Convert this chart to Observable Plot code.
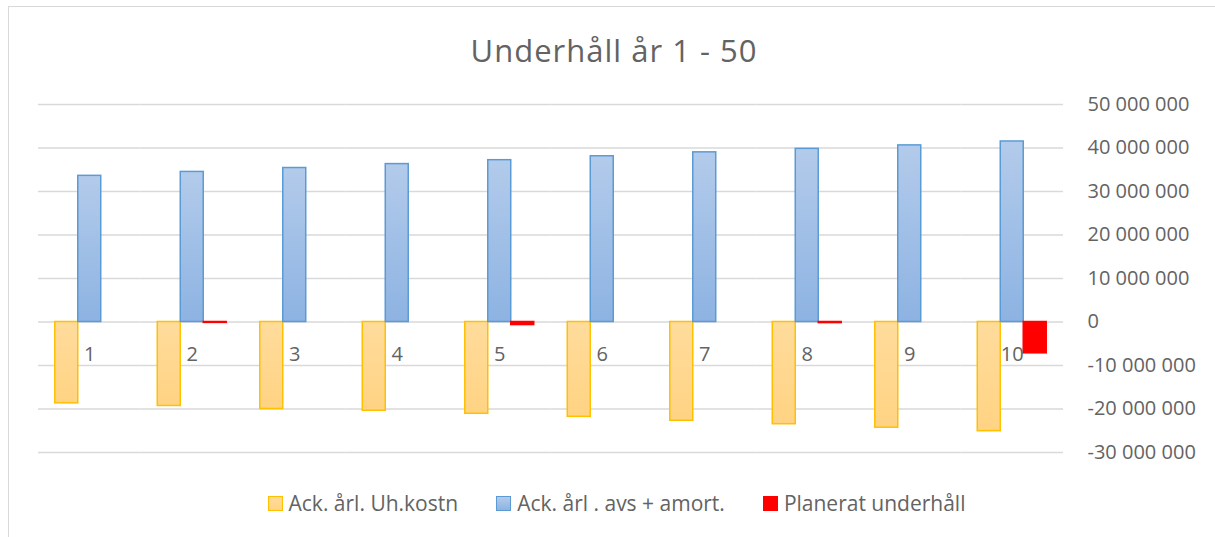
<!DOCTYPE html>
<html>
<head>
<meta charset="utf-8">
<script src="https://cdn.jsdelivr.net/npm/d3@7"></script>
<script src="https://cdn.jsdelivr.net/npm/@observablehq/plot@0.6"></script>
<style>
  html, body { margin: 0; padding: 0; background: #fff; }
  #chart { position: relative; width: 1215px; height: 537px; overflow: hidden; font-family: "Open Sans", sans-serif; color: #636363; }
  #frame { position: absolute; left: 8px; top: 6px; width: 1230px; height: 560px; border: 1px solid #d9d9d9; box-sizing: border-box; }
  #title { position: absolute; left: 0; top: 35px; width: 1215px; padding-left: 13px; box-sizing: border-box; text-align: center; font-size: 31px; line-height: 31px; letter-spacing: 1px; color: #636363; }
  #plot { position: absolute; left: 0; top: 84px; }
  #legend { position: absolute; left: 0; top: 493px; width: 1215px; padding-left: 18px; box-sizing: border-box; display: flex; justify-content: center; gap: 38px; font-size: 21px; line-height: 21px; color: #636363; }
  .item { display: flex; align-items: center; gap: 6px; }
  .sw { width: 13px; height: 13px; box-sizing: content-box; }
</style>
</head>
<body>
<div id="chart">
  <div id="frame"></div>
  <div id="title">Underhåll år 1 - 50</div>
  <div id="plot"></div>
  <div id="legend"></div>
</div>
<script>
// ---- data (values in kr) ----
const years = [1, 2, 3, 4, 5, 6, 7, 8, 9, 10];
const seriesNames = ["Ack. årl. Uh.kostn", "Ack. årl . avs + amort.", "Planerat underhåll"];
const uhKostn = [-18.7e6, -19.3e6, -20.0e6, -20.4e6, -21.1e6, -21.8e6, -22.7e6, -23.5e6, -24.3e6, -25.1e6];
const avsAmort = [33.6e6, 34.5e6, 35.4e6, 36.3e6, 37.2e6, 38.1e6, 39.0e6, 39.8e6, 40.6e6, 41.5e6];
const planerat = [0, -0.2e6, 0, 0, -0.7e6, 0, 0, -0.25e6, 0, -7.2e6];
const yTicks = [-30e6, -20e6, -10e6, 0, 10e6, 20e6, 30e6, 40e6, 50e6];

const table = years.flatMap((year, i) => [
  {year, series: seriesNames[0], value: uhKostn[i]},
  {year, series: seriesNames[1], value: avsAmort[i]},
  {year, series: seriesNames[2], value: planerat[i]}
]);

const fmt = d => d3.format(",")(d).replace(/,/g, " ").replace("\u2212", "-");

const styles = {
  [seriesNames[0]]: {fill: "url(#gradOrange)", stroke: "#FFC000"},
  [seriesNames[1]]: {fill: "url(#gradBlue)", stroke: "#5B9BD5"},
  [seriesNames[2]]: {fill: "#FF0000", stroke: "#FF0000"}
};

const chart = Plot.plot({
  width: 1215,
  height: 378,
  marginTop: 20,
  marginBottom: 10,
  marginLeft: 38,
  marginRight: 152,
  style: {fontFamily: "Open Sans, sans-serif", fontSize: "20px", color: "#636363", background: "transparent", overflow: "visible"},
  fx: {domain: years, padding: 0, round: false, axis: null, label: null},
  x: {domain: seriesNames, paddingInner: 0, paddingOuter: 0.73, round: false, axis: null},
  y: {domain: [-30e6, 50e6], ticks: yTicks, axis: "right", tickSize: 0, tickPadding: 24, tickFormat: fmt, label: null},
  marks: [
    Plot.ruleY(yTicks, {stroke: "#d9d9d9", strokeWidth: 1.3}),
    ...seriesNames.map(s => Plot.barY(table.filter(d => d.series === s && d.value !== 0), {
      fx: "year", x: "series", y: "value",
      fill: styles[s].fill, stroke: styles[s].stroke, strokeWidth: 1.5
    })),
    Plot.text(years, {fx: d => d, y: () => 0, text: d => String(d), dy: 33, fill: "#636363", fontSize: 20})
  ]
});

const svg = d3.select(chart);
const defs = svg.insert("defs", ":first-child");
const go = defs.append("linearGradient").attr("id", "gradOrange").attr("x1", 0).attr("y1", 0).attr("x2", 0).attr("y2", 1);
go.append("stop").attr("offset", "0%").attr("stop-color", "#FFDC9C");
go.append("stop").attr("offset", "100%").attr("stop-color", "#FFD383");
const gb = defs.append("linearGradient").attr("id", "gradBlue").attr("x1", 0).attr("y1", 0).attr("x2", 0).attr("y2", 1);
gb.append("stop").attr("offset", "0%").attr("stop-color", "#B3CBEB");
gb.append("stop").attr("offset", "100%").attr("stop-color", "#8DB3E2");

document.getElementById("plot").appendChild(chart);

// legend
const legendSwatches = [
  {bg: "linear-gradient(#FFDC9C, #FFD383)", border: "#FFC000"},
  {bg: "linear-gradient(#B3CBEB, #8DB3E2)", border: "#5B9BD5"},
  {bg: "#FF0000", border: "#FF0000"}
];
const legend = d3.select("#legend");
seriesNames.forEach((name, i) => {
  const it = legend.append("div").attr("class", "item");
  it.append("div").attr("class", "sw")
    .style("background", legendSwatches[i].bg)
    .style("border", `1px solid ${legendSwatches[i].border}`);
  it.append("span").text(name);
});
</script>
</body>
</html>
